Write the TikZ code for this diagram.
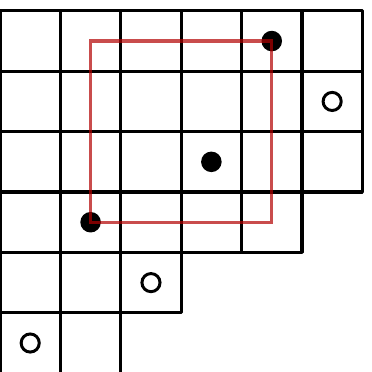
\documentclass[tikz,border=0pt]{standalone}
\usepackage{tikz}

\begin{document}
\begin{tikzpicture}[
    x=1cm, y=-1cm,
    cell/.style={draw, line width=1.5pt, line join=round},
    full/.style={circle, fill=black, inner sep=0pt, minimum size=0.34cm},
    hollow/.style={circle, draw=black, line width=1.4pt, fill=white, inner sep=0pt, minimum size=0.3cm},
    hook/.style={draw=red!70!black, opacity=0.7, line width=1.6pt},
]
\useasboundingbox (0,-0.18) rectangle (6.16,5.98);

% Cells, row by row
\foreach \r/\len in {1/6,2/6,3/6,4/5,5/3,6/2}
  \foreach \c in {1,...,\len}
    \draw[cell] (\c-1,\r-1) rectangle (\c,\r);

% Filled dots
\node (ne) [full] at (4.5,0.5) {};
\node (mid) [full] at (3.5,2.5) {};
\node (sw) [full] at (1.5,3.5) {};

% Hollow dots
\node (h1) [hollow] at (5.5,1.5) {};
\node (h2) [hollow] at (2.5,4.5) {};
\node (h3) [hollow] at (0.5,5.5) {};

% Rectangle through the corner dots
\draw[hook] (sw.center) rectangle (ne.center);
\end{tikzpicture}
\end{document}
